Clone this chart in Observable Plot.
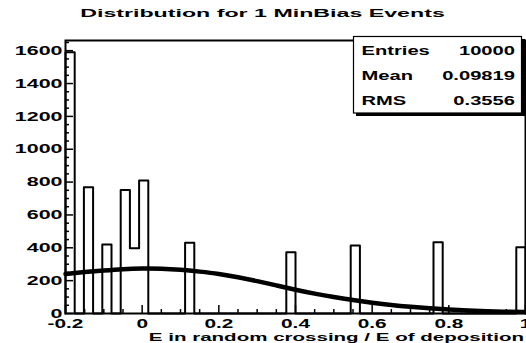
<!DOCTYPE html>
<html><head><meta charset="utf-8">
<script src="https://cdn.jsdelivr.net/npm/d3@7"></script>
<script src="https://cdn.jsdelivr.net/npm/@observablehq/plot@0.6"></script>
<style>
body{margin:0;background:#fff}
svg text{font-family:"Liberation Sans",Arial,sans-serif;font-weight:bold;fill:#000}
</style>
</head><body><div id="chart"></div>
<script>
// ---- data ----
const titleText = "Distribution for 1 MinBias Events";
const xTitle = "E in random crossing / E of deposition";
const binStart = -0.2;
const binWidth = 0.024;
const counts = [1590,0,768,0,420,0,752,397,809,0,
                0,0,0,430,0,0,0,0,0,0,
                0,0,0,0,373,0,0,0,0,0,
                0,414,0,0,0,0,0,0,0,0,
                434,0,0,0,0,0,0,0,0,403];
const fitX = [-0.2,-0.15,-0.1,-0.05,0,0.05,0.1,0.15,0.2,0.25,0.3,0.35,0.4,0.45,0.5,0.55,0.6,0.65,0.7,0.75,0.8,0.85,0.9,0.95,1.0];
const fitY = [240,252,262,270,274,273,266,255,241,221,197,171,145,121,100,82,66,52,41,32,25,19,14,11,9];
const xMajor = [-0.2,0,0.2,0.4,0.6,0.8,1.0];
const yMajor = [0,200,400,600,800,1000,1200,1400,1600];
const statsLabels = ["Entries","Mean","RMS"];
const statsValues = ["10000","0.09819","0.3556"];

// ---- derived ----
const steps = [{x: binStart, y: 0}]
  .concat(counts.map((c, i) => ({x: binStart + i * binWidth, y: c})))
  .concat([{x: binStart + counts.length * binWidth, y: 0}]);
const fit = fitX.map((x, i) => ({x, y: fitY[i]}));
const xMinor = d3.range(0, 25).map(i => -0.2 + i * 0.05).filter((v, i) => i % 4 !== 0);
const yMinor = d3.range(0, 34).map(i => i * 50).filter(v => v % 200 !== 0);

const plot = Plot.plot({
  width: 526, height: 343,
  marginLeft: 65, marginRight: 1, marginTop: 40, marginBottom: 30,
  x: {domain: [-0.2, 1.0], label: null},
  y: {domain: [0, 1662], label: null},
  style: {fontFamily: "Liberation Sans", fontWeight: "bold", fontSize: "13px", color: "black", background: "white", overflow: "visible"},
  marks: [
    Plot.line(steps, {x: "x", y: "y", curve: "step-after", stroke: "black", strokeWidth: 2}),
    Plot.line(fit, {x: "x", y: "y", curve: "natural", stroke: "black", strokeWidth: 4.5}),
    Plot.ruleX(xMinor, {y1: 0, y2: 24, stroke: "black", strokeWidth: 1.5}),
    Plot.ruleX(xMajor, {y1: 0, y2: 48, stroke: "black", strokeWidth: 1.5}),
    Plot.ruleY(yMinor, {x1: -0.2, x2: -0.2 + 0.0104, stroke: "black", strokeWidth: 1.5}),
    Plot.ruleY(yMajor, {x1: -0.2, x2: -0.2 + 0.0209, stroke: "black", strokeWidth: 1.5}),
    Plot.axisX(xMajor, {tickSize: 0, tickPadding: 5, tickFormat: d => String(d), fontSize: 13, label: null}),
    Plot.axisY(yMajor, {tickSize: 0, tickPadding: 3, tickFormat: d => String(d), fontSize: 13, label: null}),
    Plot.frame({stroke: "black", strokeWidth: 2})
  ]
});
document.getElementById("chart").appendChild(plot);

const svg = d3.select(plot);
function stretch(sel, f) {
  sel.each(function () {
    const w = this.getComputedTextLength();
    this.setAttribute("textLength", w * f);
    this.setAttribute("lengthAdjust", "spacingAndGlyphs");
  });
}
stretch(svg.selectAll('[aria-label="x-axis tick label"] text'), 1.6);
stretch(svg.selectAll('[aria-label="y-axis tick label"] text'), 1.65);

// title
const t = svg.append("text").attr("x", 262.5).attr("y", 17).attr("text-anchor", "middle")
  .style("font-size", "11.6px").text(titleText);
stretch(t, 2.0);
// x axis title
const xt = svg.append("text").attr("x", 524).attr("y", 341).attr("text-anchor", "end")
  .style("font-size", "11.6px").text(xTitle);
stretch(xt, 1.77);

// stats box
const g = svg.append("g");
g.append("rect").attr("x", 356).attr("y", 39).attr("width", 169).attr("height", 77).attr("fill", "black");
g.append("rect").attr("x", 353.5).attr("y", 36.5).attr("width", 168).attr("height", 76.5)
  .attr("fill", "white").attr("stroke", "black").attr("stroke-width", 1.2);
const rowsY = [55.3, 80.3, 104.7];
statsLabels.forEach((s, i) => {
  stretch(g.append("text").attr("x", 361.5).attr("y", rowsY[i]).attr("text-anchor", "start").style("font-size", "12.6px").text(s), 1.6);
  stretch(g.append("text").attr("x", 515).attr("y", rowsY[i]).attr("text-anchor", "end").style("font-size", "12.6px").text(statsValues[i]), 1.6);
});
</script>
</body></html>
